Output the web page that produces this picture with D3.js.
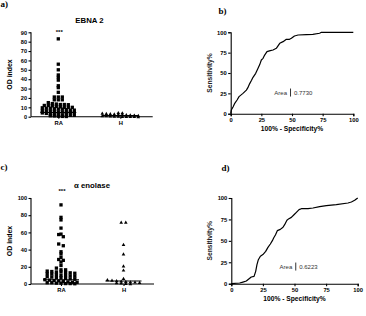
<!DOCTYPE html>
<html><head><meta charset="utf-8">
<script src="https://cdn.jsdelivr.net/npm/d3@7"></script>
<style>body{margin:0;background:#fff}svg{display:block}</style>
</head><body><svg id="c" width="366" height="316"></svg>
<script>
// ---------- data ----------
const groups = ["RA", "H"];
const ebnaRA = [83,56,50,44.5,42,39,33,31,26,21,21,21,18,18,18,
  15,14,13.5,13,13,12.8,
  12,12,11.5,11,10.5,10,10,10,
  9.5,9,9,8.5,8,8,7.5,7,7,
  6.5,6,6,5.5,5,5,4.5,4.5,4.3,
  4,3.5,3,3,2.5,2,2,1.5,1.5,
  1,0.8,0.5,0.3,0.2];
const ebnaH = [4.5,4.2,3.8,3.5,3.2,3,2.8,2.5,2.2,2,1.8,1.5,1.2,1,0.8,0.6,0.5,0.4,0.3,0.2,0.2,0.1];
const ebnaMedians = [4.5, 1.2];
const ebnaTicks = [0,10,20,30,40,50,60,70,80,90];
const enolRA = [92,77.5,74.5,65,58,57.5,55,46.5,44.5,37.5,35,31,28.5,27.5,25.5,21.5,18.5,16.5,16.5,
  15,14.5,14,14,13.5,13,12.5,
  12,11.5,11,10,10,9.5,9,
  8.5,8,7.5,7,6.5,6,5.5,
  5,4.5,4,3.5,3,2.5,2,2,
  1.5,1.5,1,1,0.5,0.5,0.3];
const enolH = [72,72,46,35,21,16.3,6.6,5,4.6,4,3.5,3,2.6,2.3,2,1.6,1.2,0.8,0.5];
const enolMedians = [5, 3.5];
const enolTicks = [0,20,40,60,80,100];
const rocTicks = [0,25,50,75,100];
const rocBx = [0,0.5,2,3.3,5.2,6.8,10,12.8,14,15.5,17,18.2,20.4,22.3,23.6,25,26.4,27.7,29.6,32.3,34.5,37.2,40,42.7,45.4,48,49.5,52,55,61.7,67,72.5,74,100];
const rocBy = [0,4.5,8.6,12.7,16.8,21,25,29,32,37,41,44.7,49.6,55.7,60,66,68,72,76.2,77.5,78.3,80.3,86.5,88.5,91.4,91.4,92.6,95.5,96.7,97.1,97.5,98.8,100,100];
const rocDx = [0,6.6,9.2,11.9,15.8,18,19.3,20.3,21.4,23,25,27.2,29,30.9,32.5,33.5,35,36.4,38.8,40.9,42.2,44,45.6,47.5,49.6,51.5,53.6,55.4,60.7,64.6,69.9,75.2,83.1,92.3,95,97.6,100];
const rocDy = [0,0.8,1.9,3.1,7.8,8.6,14.4,22.2,28,32,34,37.7,42.4,46.3,50.2,53.3,57.2,61.9,63.4,65.8,68.9,74,75.9,77.4,80.5,83.3,86.4,87.5,87.5,88.3,89.9,91,92.2,94.2,95.3,97.3,100];
const aucB = "0.7730", aucD = "0.6223";

// ---------- drawing ----------
const svg = d3.select("#c");
const SANS = "'Liberation Sans', Arial, sans-serif";
const SERIF = "'Liberation Serif', 'Times New Roman', serif";

function panelLabel(txt, x, y) {
  svg.append("text").attr("x", x).attr("y", y).attr("font-family", SERIF)
    .attr("font-weight", "bold").attr("font-size", 9).attr("fill", "#000").text(txt);
}

// row-binned dot layout (points of similar value spread side by side, centred)
function rows(values, y, cx, s, h) {
  const y0 = y(0);
  const bins = d3.group(values.map((v, i) => ({v, i, py: y(v)})), d => Math.round((y0 - d.py) / h));
  const out = [];
  for (const [, arr] of bins) {
    const n = arr.length;
    arr.forEach((d, k) => out.push({x: cx + (k - (n - 1) / 2) * s, y: d.py}));
  }
  return out;
}

function styleAxis(g, fs) {
  g.selectAll("path,line").attr("stroke", "#000").attr("stroke-width", 1.1);
  g.selectAll("text").attr("font-family", SANS).attr("font-weight", "bold")
    .attr("font-size", fs).attr("fill", "#000");
}

function scatterPanel(o) {
  const y = d3.scaleLinear().domain([0, o.ymax]).range([o.y0, o.y1]);
  const x = d3.scalePoint().domain(groups).range(o.xr);
  const ga = svg.append("g").attr("transform", `translate(${o.ax},0)`)
    .call(d3.axisLeft(y).tickValues(o.ticks).tickSize(2.5).tickPadding(1.5));
  styleAxis(ga, 5.6);
  ga.select(".domain").attr("d", `M0,${o.y0}V${o.y1}`);
  const gx = svg.append("g").attr("transform", `translate(0,${o.y0})`)
    .call(d3.axisBottom(x).tickSize(2).tickPadding(2));
  styleAxis(gx, 5.8);
  gx.select(".domain").attr("d", `M${o.ax},0H${o.axEnd}`);
  svg.append("text").attr("x", o.tx).attr("y", o.ty).attr("text-anchor", "middle")
    .attr("font-family", SANS).attr("font-weight", "bold").attr("font-size", 7.8)
    .attr("fill", "#000").text(o.title);
  svg.append("text").attr("transform", `translate(${o.ylx},${(o.y0 + o.y1) / 2}) rotate(-90)`)
    .attr("text-anchor", "middle").attr("font-family", SANS).attr("font-weight", "bold")
    .attr("font-size", 6.9).attr("fill", "#000").text("OD index");
  svg.append("text").attr("x", x("RA") + 1).attr("y", o.starY).attr("text-anchor", "middle")
    .attr("font-family", SANS).attr("font-weight", "bold").attr("font-size", 6)
    .attr("fill", "#000").text("***");
  const sq = 3.3;
  svg.append("g").selectAll("rect").data(rows(o.ra, y, x("RA"), o.s, o.h)).join("rect")
    .attr("x", d => d.x - sq / 2).attr("y", d => d.y - sq / 2)
    .attr("width", sq).attr("height", sq).attr("fill", "#000");
  const tw = 3.6, th = 3.2;
  svg.append("g").selectAll("path").data(rows(o.hv, y, x("H"), o.s, o.h)).join("path")
    .attr("d", d => `M${d.x - tw / 2},${d.y + th / 2}L${d.x},${d.y - th / 2}L${d.x + tw / 2},${d.y + th / 2}Z`)
    .attr("fill", "#000");
  svg.append("g").selectAll("line").data(groups).join("line")
    .attr("x1", g => x(g) - 18).attr("x2", g => x(g) + 18)
    .attr("y1", (g, i) => y(o.med[i])).attr("y2", (g, i) => y(o.med[i]))
    .attr("stroke", "#000").attr("stroke-width", 1.1);
}

function rocPanel(o) {
  const x = d3.scaleLinear().domain([0, 100]).range([o.x0, o.x1]);
  const y = d3.scaleLinear().domain([0, 100]).range([o.y0, o.y1]);
  const ga = svg.append("g").attr("transform", `translate(${o.x0},0)`)
    .call(d3.axisLeft(y).tickValues(rocTicks).tickSize(2.5).tickPadding(1.5));
  styleAxis(ga, 5.8);
  const gx = svg.append("g").attr("transform", `translate(0,${o.y0})`)
    .call(d3.axisBottom(x).tickValues(rocTicks).tickSize(2.5).tickPadding(1.5));
  styleAxis(gx, 5.8);
  svg.append("path").datum(o.xs.map((v, i) => [v, o.ys[i]]))
    .attr("d", d3.line().x(d => x(d[0])).y(d => y(d[1])))
    .attr("fill", "none").attr("stroke", "#000").attr("stroke-width", 1.2)
    .attr("stroke-linejoin", "round");
  svg.append("text").attr("x", (o.x0 + o.x1) / 2).attr("y", o.y0 + 17.5)
    .attr("text-anchor", "middle").attr("font-family", SANS).attr("font-weight", "bold")
    .attr("font-size", 6.7).attr("fill", "#000").text("100% - Specificity%");
  svg.append("text").attr("transform", `translate(${o.x0 - 19},${(o.y0 + o.y1) / 2}) rotate(-90)`)
    .attr("text-anchor", "middle").attr("font-family", SANS).attr("font-weight", "bold")
    .attr("font-size", 6.7).attr("fill", "#222").text("Sensitivity%");
  const ax = x(o.areaX), ay = y(o.areaY);
  svg.append("text").attr("x", ax - 3.5).attr("y", ay + 2.2).attr("text-anchor", "end")
    .attr("font-family", SANS).attr("font-size", 6).attr("fill", "#333").text("Area");
  svg.append("line").attr("x1", ax).attr("x2", ax).attr("y1", ay - 4).attr("y2", ay + 4)
    .attr("stroke", "#333").attr("stroke-width", 1);
  svg.append("text").attr("x", ax + 3.5).attr("y", ay + 2.2)
    .attr("font-family", SANS).attr("font-size", 6).attr("fill", "#333").text(o.auc);
}

panelLabel("a)", 0.5, 7);
panelLabel("b)", 218.5, 13.5);
panelLabel("c)", 0.5, 169.5);
panelLabel("d)", 221.5, 170.5);

scatterPanel({ymax: 90, y0: 116.7, y1: 32.3, ax: 31, axEnd: 152.7, xr: [58.3, 120.3],
  ticks: ebnaTicks, ra: ebnaRA, hv: ebnaH, med: ebnaMedians, s: 4, h: 2.6,
  title: "EBNA 2", tx: 89.5, ty: 22.5, ylx: 11.5, starY: 33.5});
scatterPanel({ymax: 100, y0: 284, y1: 198, ax: 31, axEnd: 154, xr: [61, 123.5],
  ticks: enolTicks, ra: enolRA, hv: enolH, med: enolMedians, s: 4.6, h: 3,
  title: "\u03b1 enolase", tx: 92, ty: 187.5, ylx: 11.5, starY: 192.5});

rocPanel({x0: 230.7, x1: 353.3, y0: 113.7, y1: 32.3, xs: rocBx, ys: rocBy,
  auc: aucB, areaX: 48.8, areaY: 26});
rocPanel({x0: 231.3, x1: 357.7, y0: 283.7, y1: 198, xs: rocDx, ys: rocDy,
  auc: aucD, areaX: 51, areaY: 20});
</script></body></html>
